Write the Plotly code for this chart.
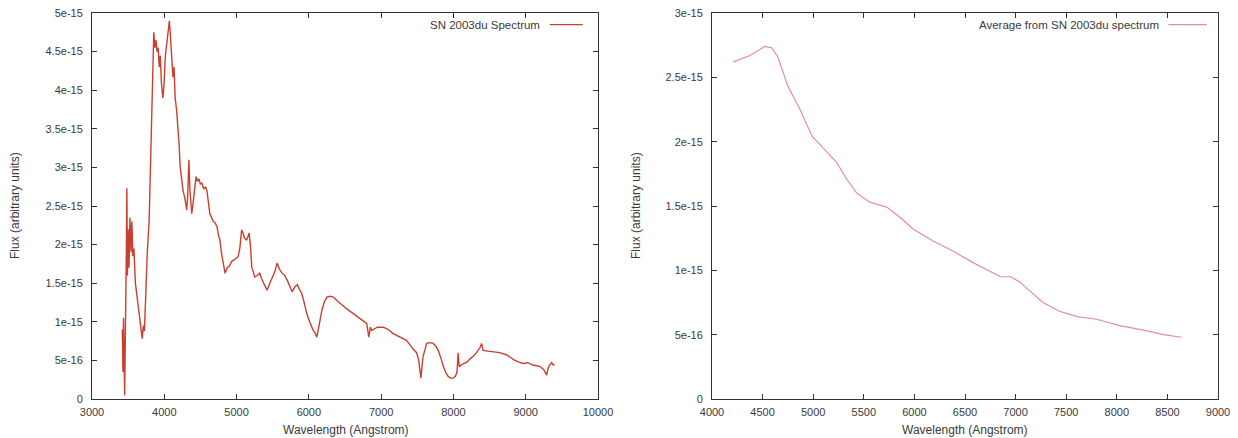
import plotly.graph_objects as go

# SN 2003du observed spectrum (flux in units of 1e-15)
sn_wave = [3420, 3428, 3436, 3445, 3452, 3460, 3468, 3475, 3482, 3490, 3500, 3512,
           3525, 3540, 3552, 3565, 3580, 3600, 3620, 3640, 3660, 3680, 3695, 3710,
           3725, 3740, 3752, 3765, 3790, 3810, 3830, 3845, 3855, 3870, 3885, 3900,
           3915, 3930, 3945, 3960, 3980, 3995, 4015, 4040, 4060, 4070, 4085, 4100,
           4120, 4135, 4150, 4170, 4190, 4205, 4220, 4240, 4260, 4285, 4310, 4325,
           4340, 4355, 4380, 4400, 4420, 4440, 4460, 4480, 4500, 4520, 4545, 4570,
           4590, 4610, 4630, 4655, 4680, 4705, 4730, 4750, 4770, 4790, 4815, 4840,
           4870, 4900, 4930, 4960, 4990, 5020, 5045, 5070, 5090, 5110, 5140, 5160,
           5175, 5195, 5210, 5230, 5250, 5285, 5320, 5350, 5385, 5420, 5460, 5500,
           5530, 5560, 5595, 5630, 5665, 5700, 5735, 5770, 5805, 5840, 5870, 5900,
           5935, 5970, 6010, 6040, 6060, 6090, 6110, 6145, 6180, 6215, 6250, 6290,
           6340, 6385, 6430, 6520, 6610, 6700, 6800, 6830, 6850, 6870, 6950, 7030,
           7100, 7160, 7260, 7350, 7440, 7490, 7520, 7550, 7565, 7580, 7610, 7630,
           7680, 7720, 7760, 7790, 7830, 7860, 7900, 7930, 7965, 8000, 8030, 8050,
           8065, 8080, 8120, 8190, 8230, 8270, 8320, 8370, 8390, 8410, 8480, 8550,
           8640, 8740, 8800, 8850, 8900, 8960, 9030, 9100, 9150, 9200, 9250, 9290,
           9310, 9330, 9360, 9380, 9400]
sn_flux = [0.9, 0.35, 1.05, 0.25, 0.05, 0.7, 1.1, 1.9, 2.73, 1.6, 2.2, 1.7,
           2.35, 1.9, 2.3, 1.85, 1.95, 1.5, 1.35, 1.2, 1.0, 0.85, 0.78, 0.95,
           0.88, 1.25, 1.63, 1.9, 2.3, 3.0, 3.65, 4.2, 4.75, 4.55, 4.65, 4.5,
           4.55, 4.3, 4.45, 4.1, 3.9, 4.05, 4.45, 4.65, 4.8, 4.9, 4.7, 4.48,
           4.17, 4.3, 3.9, 3.75, 3.52, 3.3, 3.0, 2.85, 2.7, 2.6, 2.45, 2.65,
           3.1, 2.7, 2.4, 2.55, 2.75, 2.88, 2.82, 2.85, 2.78, 2.8, 2.72, 2.75,
           2.7, 2.55, 2.4, 2.35, 2.3, 2.28, 2.23, 2.12, 2.06, 1.9, 1.75, 1.63,
           1.7, 1.72, 1.78, 1.8, 1.82, 1.84, 1.95, 2.19, 2.15, 2.08, 2.06, 2.12,
           2.15, 1.95, 1.71, 1.65, 1.58, 1.6, 1.63, 1.55, 1.48, 1.41, 1.5, 1.58,
           1.65, 1.76, 1.68, 1.63, 1.6, 1.54, 1.46, 1.39, 1.45, 1.48, 1.42, 1.37,
           1.25, 1.11, 1.0, 0.93, 0.89, 0.85, 0.80, 0.97, 1.15, 1.26, 1.32, 1.33,
           1.32, 1.28, 1.24, 1.17, 1.11, 1.05, 0.98, 0.8, 0.93, 0.89, 0.93, 0.93,
           0.9, 0.85, 0.8, 0.76, 0.65, 0.6, 0.5, 0.27, 0.42, 0.55, 0.65, 0.72,
           0.73, 0.72, 0.68, 0.63, 0.52, 0.42, 0.33, 0.29, 0.27, 0.27, 0.3, 0.35,
           0.6, 0.42, 0.45, 0.48, 0.52, 0.55, 0.6, 0.67, 0.72, 0.63, 0.62, 0.61,
           0.6, 0.57, 0.53, 0.5, 0.48, 0.46, 0.47, 0.44, 0.43, 0.42, 0.38, 0.31,
           0.4, 0.44, 0.47, 0.44, 0.45]

# Smoothed / averaged spectrum (flux in units of 1e-15)
avg_wave = [4210, 4375, 4520, 4590, 4650, 4750, 4870, 4990, 5100, 5230, 5330, 5430,
            5560, 5730, 5860, 5990, 6180, 6380, 6580, 6850, 6950, 7040, 7140, 7270,
            7440, 7610, 7800, 8030, 8300, 8460, 8640]
avg_flux = [2.62, 2.67, 2.74, 2.73, 2.66, 2.43, 2.25, 2.04, 1.95, 1.84, 1.71, 1.6,
            1.53, 1.49, 1.41, 1.32, 1.23, 1.15, 1.06, 0.95, 0.95, 0.91, 0.84, 0.75,
            0.68, 0.64, 0.62, 0.57, 0.53, 0.50, 0.48]

# Axis ticks
left_xticks = [3000, 4000, 5000, 6000, 7000, 8000, 9000, 10000]
left_yticks = [0, 0.5, 1, 1.5, 2, 2.5, 3, 3.5, 4, 4.5, 5]
left_ylabels = ["0", "5e-16", "1e-15", "1.5e-15", "2e-15", "2.5e-15", "3e-15",
                "3.5e-15", "4e-15", "4.5e-15", "5e-15"]
right_xticks = [4000, 4500, 5000, 5500, 6000, 6500, 7000, 7500, 8000, 8500, 9000]
right_yticks = [0, 0.5, 1, 1.5, 2, 2.5, 3]
right_ylabels = ["0", "5e-16", "1e-15", "1.5e-15", "2e-15", "2.5e-15", "3e-15"]

legend_left = "SN 2003du Spectrum"
legend_right = "Average from SN 2003du spectrum"
x_title = "Wavelength (Angstrom)"
y_title = "Flux (arbitrary units)"

TEXT = "#3a3a3a"
AXIS = "#333333"
FAMILY = "Liberation Sans, Arial, sans-serif"
TICK_FONT = dict(family=FAMILY, size=11, color=TEXT)
KEY_FONT = dict(family=FAMILY, size=11.5, color=TEXT)
TITLE_FONT = dict(family=FAMILY, size=12, color=TEXT)
SN_COLOR = "#c9402f"
AVG_COLOR = "#e58f92"

fig = go.Figure()
fig.add_trace(go.Scatter(x=sn_wave, y=sn_flux, mode="lines",
                         line=dict(color=SN_COLOR, width=1.4),
                         xaxis="x", yaxis="y", showlegend=False))
fig.add_trace(go.Scatter(x=avg_wave, y=avg_flux, mode="lines",
                         line=dict(color=AVG_COLOR, width=1.2),
                         xaxis="x2", yaxis="y2", showlegend=False))

ydom = [1 - 399 / 438, 1 - 13 / 438]
common = dict(showline=True, linecolor=AXIS, linewidth=1, mirror="allticks",
              ticks="inside", ticklen=5, tickcolor=AXIS, showgrid=False,
              zeroline=False, tickfont=TICK_FONT, automargin=False)

fig.update_layout(
    width=1238, height=438,
    margin=dict(l=0, r=0, t=0, b=0),
    paper_bgcolor="white", plot_bgcolor="white",
    xaxis=dict(domain=[92 / 1238, 598 / 1238], range=[3000, 10000],
               tickvals=left_xticks, ticktext=[str(v) for v in left_xticks],
               ticklabelstandoff=3, anchor="y", **common),
    yaxis=dict(domain=ydom, range=[0, 5],
               tickvals=left_yticks, ticktext=left_ylabels,
               ticklabelstandoff=6, anchor="x", **common),
    xaxis2=dict(domain=[712 / 1238, 1218 / 1238], range=[4000, 9000],
                tickvals=right_xticks, ticktext=[str(v) for v in right_xticks],
                ticklabelstandoff=3, anchor="y2", **common),
    yaxis2=dict(domain=ydom, range=[0, 3],
                tickvals=right_yticks, ticktext=right_ylabels,
                ticklabelstandoff=6, anchor="x2", **common),
)

# Axis titles placed in pixel-derived paper coordinates
for xc, yc_x in [(346 / 1238, 15 / 1238), (965 / 1238, 636 / 1238)]:
    fig.add_annotation(x=xc, y=1 - 430 / 438, xref="paper", yref="paper", text=x_title,
                       showarrow=False, xanchor="center", yanchor="middle", font=TITLE_FONT)
    fig.add_annotation(x=yc_x, y=1 - 206 / 438, xref="paper", yref="paper", text=y_title,
                       showarrow=False, textangle=-90, xanchor="center", yanchor="middle",
                       font=TITLE_FONT)

# Key entries: label followed by a short line sample, top-right inside each plot
for xref, yref, label, color, x0, x1 in [
    ("x domain", "y domain", legend_left, SN_COLOR, 0.905, 0.97),
    ("x2 domain", "y2 domain", legend_right, AVG_COLOR, 0.902, 0.978),
]:
    fig.add_annotation(x=x0 - 0.015, y=0.97, xref=xref, yref=yref, text=label,
                       showarrow=False, xanchor="right", yanchor="middle", font=KEY_FONT)
    fig.add_shape(type="line", xref=xref, yref=yref, x0=x0, x1=x1, y0=0.97, y1=0.97,
                  line=dict(color=color, width=1.2))

fig.write_html("out.html")
